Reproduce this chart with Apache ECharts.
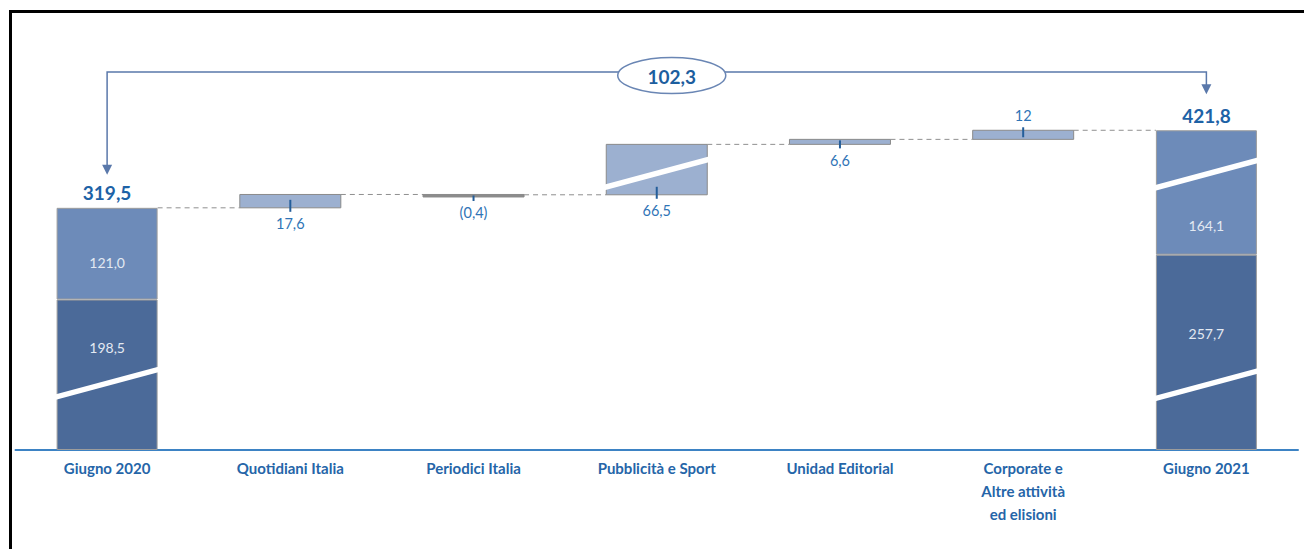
<!DOCTYPE html>
<html>
<head>
<meta charset="utf-8">
<script src="https://cdn.jsdelivr.net/npm/echarts@6.0.0/dist/echarts.min.js"></script>
<style>
  html, body { margin: 0; padding: 0; background: #fff; overflow: hidden; }
  #chart { position: absolute; left: 0; top: 0; width: 1304px; height: 549px; }
  #frame { position: absolute; left: 9px; top: 10px; width: 1400px; height: 700px;
           border-top: 3px solid #000; border-left: 3px solid #000; pointer-events: none; }
</style>
</head>
<body>
<div id="chart"></div>
<div id="frame"></div>
<script>
// ---- data ----
const categories = ['Giugno 2020', 'Quotidiani Italia', 'Periodici Italia', 'Pubblicità e Sport',
                    'Unidad Editorial', 'Corporate e\nAltre attività\ned elisioni', 'Giugno 2021'];
const baseDark  = [198.5, null, null, null, null, null, 257.7];
const baseLight = [121.0, null, null, null, null, null, 164.1];
const deltas    = [null, 17.6, -0.4, 66.5, 6.6, 12, null];
// axis-break marks drawn on bars: [category index, value where the slash sits]
const breakMarks = [[0, 88], [3, 365], [6, 86], [6, 364]];

// ---- derived ----
const total0 = baseDark[0] + baseLight[0];
const total6 = baseDark[6] + baseLight[6];
const fmt = v => v.toFixed(1).replace('.', ',');
const fmtDelta = v => {
  const a = Math.abs(v);
  const s = Number.isInteger(a) ? String(a) : a.toFixed(1).replace('.', ',');
  return v < 0 ? '(' + s + ')' : s;
};
const deltaData = [];
const connData = [[0, total0]];
let run = total0;
deltas.forEach((d, i) => {
  if (d == null) return;
  deltaData.push([i, run, run + d, d]);
  run += d;
  connData.push([i, run]);
});

const BAR_W = 101;
const FONT = 'Lato, "Open Sans", sans-serif';

const chart = echarts.init(document.getElementById('chart'), null, { renderer: 'svg' });
chart.setOption({
  animation: false,
  grid: { left: 15.5, right: 6, top: 71, bottom: 99 },
  xAxis: {
    type: 'category', data: categories,
    axisLine: { lineStyle: { color: '#3d83c4', width: 2 } },
    axisTick: { show: false },
    axisLabel: { interval: 0, color: '#2565a8', fontWeight: 'bold', fontSize: 15,
                 fontFamily: FONT, margin: 6, lineHeight: 23 }
  },
  yAxis: { type: 'value', min: 0, max: 500, show: false, splitLine: { show: false } },
  series: [
    {
      type: 'bar', stack: 'tot', barWidth: BAR_W,
      data: baseDark.map((v, i) => v == null ? null :
        { value: v, label: { offset: [0, i === 0 ? -27 : -19] } }),
      itemStyle: { color: '#4b6a99', borderColor: '#9c9c9c', borderWidth: 1 },
      label: { show: true, position: 'inside', color: '#e3e9f2', fontSize: 14,
               fontFamily: FONT, formatter: p => fmt(p.value) }
    },
    {
      type: 'bar', stack: 'tot', barWidth: BAR_W,
      data: baseLight.map((v, i) => v == null ? null :
        { value: v, label: { offset: [0, i === 0 ? 9 : 33] } }),
      itemStyle: { color: '#6d8bb9', borderColor: '#9c9c9c', borderWidth: 1 },
      label: { show: true, position: 'inside', color: '#e3e9f2', fontSize: 14,
               fontFamily: FONT, formatter: p => fmt(p.value) }
    },
    {
      // connectors
      type: 'custom', data: connData, z: 1,
      renderItem: (params, api) => {
        const i = api.value(0);
        const p = api.coord([i, api.value(1)]);
        const q = api.coord([i + 1, api.value(1)]);
        return {
          type: 'line',
          shape: { x1: p[0] + BAR_W / 2, y1: p[1], x2: q[0] - BAR_W / 2, y2: q[1] },
          style: { stroke: '#8f8f8f', lineWidth: 1, lineDash: [5, 4] }
        };
      }
    },
    {
      // delta bars with tick + label
      type: 'custom', data: deltaData, z: 3,
      renderItem: (params, api) => {
        const i = api.value(0), s = api.value(1), e = api.value(2), d = api.value(3);
        const pt = api.coord([i, Math.max(s, e)]);
        const pb = api.coord([i, Math.min(s, e)]);
        const cx = pt[0];
        let top = pt[1], bottom = pb[1];
        if (bottom - top < 2.5) { bottom = top + 2.5; }
        const neg = d < 0;
        const above = (i === 5);
        const children = [{
          type: 'rect',
          shape: { x: cx - BAR_W / 2, y: top, width: BAR_W, height: bottom - top },
          style: { fill: neg ? '#8c8c8c' : '#9cb0d0', stroke: '#8a8a8a', lineWidth: 1 }
        }];
        let y1, y2, ty;
        if (above) { y1 = top - 3; y2 = top + 7; ty = top - 15; }
        else { y1 = Math.max(top + 1, bottom - 8); y2 = bottom + 4; ty = bottom + 16; }
        children.push({
          type: 'line', shape: { x1: cx, y1: y1, x2: cx, y2: y2 },
          style: { stroke: '#245e9a', lineWidth: 2 }
        });
        children.push({
          type: 'text',
          style: { text: fmtDelta(d), x: cx, y: ty, align: 'center', verticalAlign: 'middle',
                   fill: '#2f74b6', fontSize: 14.5, fontFamily: FONT }
        });
        return { type: 'group', children: children };
      }
    },
    {
      // break slashes
      type: 'custom', data: breakMarks, z: 4,
      renderItem: (params, api) => {
        const c = api.coord([api.value(0), api.value(1)]);
        const w = BAR_W / 2 + 9, rise = 16, t = 2.8;
        return {
          type: 'polygon',
          shape: { points: [[c[0] - w, c[1] + rise - t], [c[0] + w, c[1] - rise - t],
                            [c[0] + w, c[1] - rise + t], [c[0] - w, c[1] + rise + t]] },
          style: { fill: '#ffffff' }
        };
      }
    },
    {
      // totals above the two end bars
      type: 'custom', data: [[0, total0], [6, total6]], z: 5,
      renderItem: (params, api) => {
        const p = api.coord([api.value(0), api.value(1)]);
        return {
          type: 'text',
          style: { text: fmt(api.value(1)), x: p[0], y: p[1] - 15, align: 'center',
                   verticalAlign: 'middle', fill: '#1d62a6', fontSize: 19,
                   fontWeight: 'bold', fontFamily: FONT }
        };
      }
    },
    {
      // bracket with the overall change
      type: 'custom', data: [[0, total0, 6, total6]], z: 5,
      renderItem: (params, api) => {
        const pL = api.coord([api.value(0), api.value(1)]);
        const pR = api.coord([api.value(2), api.value(3)]);
        const yTop = api.coord([0, 500])[1] + 1;
        const tipL = pL[1] - 33, tipR = pR[1] - 36;
        const col = '#5a78aa';
        const cx = (pL[0] + pR[0]) / 2 + 15;
        return {
          type: 'group',
          children: [
            { type: 'polyline',
              shape: { points: [[pL[0], tipL - 9], [pL[0], yTop], [pR[0], yTop], [pR[0], tipR - 9]] },
              style: { stroke: col, lineWidth: 1.5, fill: null } },
            { type: 'polygon',
              shape: { points: [[pL[0] - 5, tipL - 10], [pL[0] + 5, tipL - 10], [pL[0], tipL]] },
              style: { fill: col } },
            { type: 'polygon',
              shape: { points: [[pR[0] - 5, tipR - 10], [pR[0] + 5, tipR - 10], [pR[0], tipR]] },
              style: { fill: col } },
            { type: 'ellipse', shape: { cx: cx, cy: yTop + 3.5, rx: 54, ry: 18 },
              style: { fill: '#ffffff', stroke: '#6a86b4', lineWidth: 1.5 } },
            { type: 'text',
              style: { text: fmt(api.value(3) - api.value(1)), x: cx, y: yTop + 4,
                       align: 'center', verticalAlign: 'middle', fill: '#1d5e9e',
                       fontSize: 19, fontWeight: 'bold', fontFamily: FONT } }
          ]
        };
      }
    }
  ]
});
</script>
</body>
</html>
